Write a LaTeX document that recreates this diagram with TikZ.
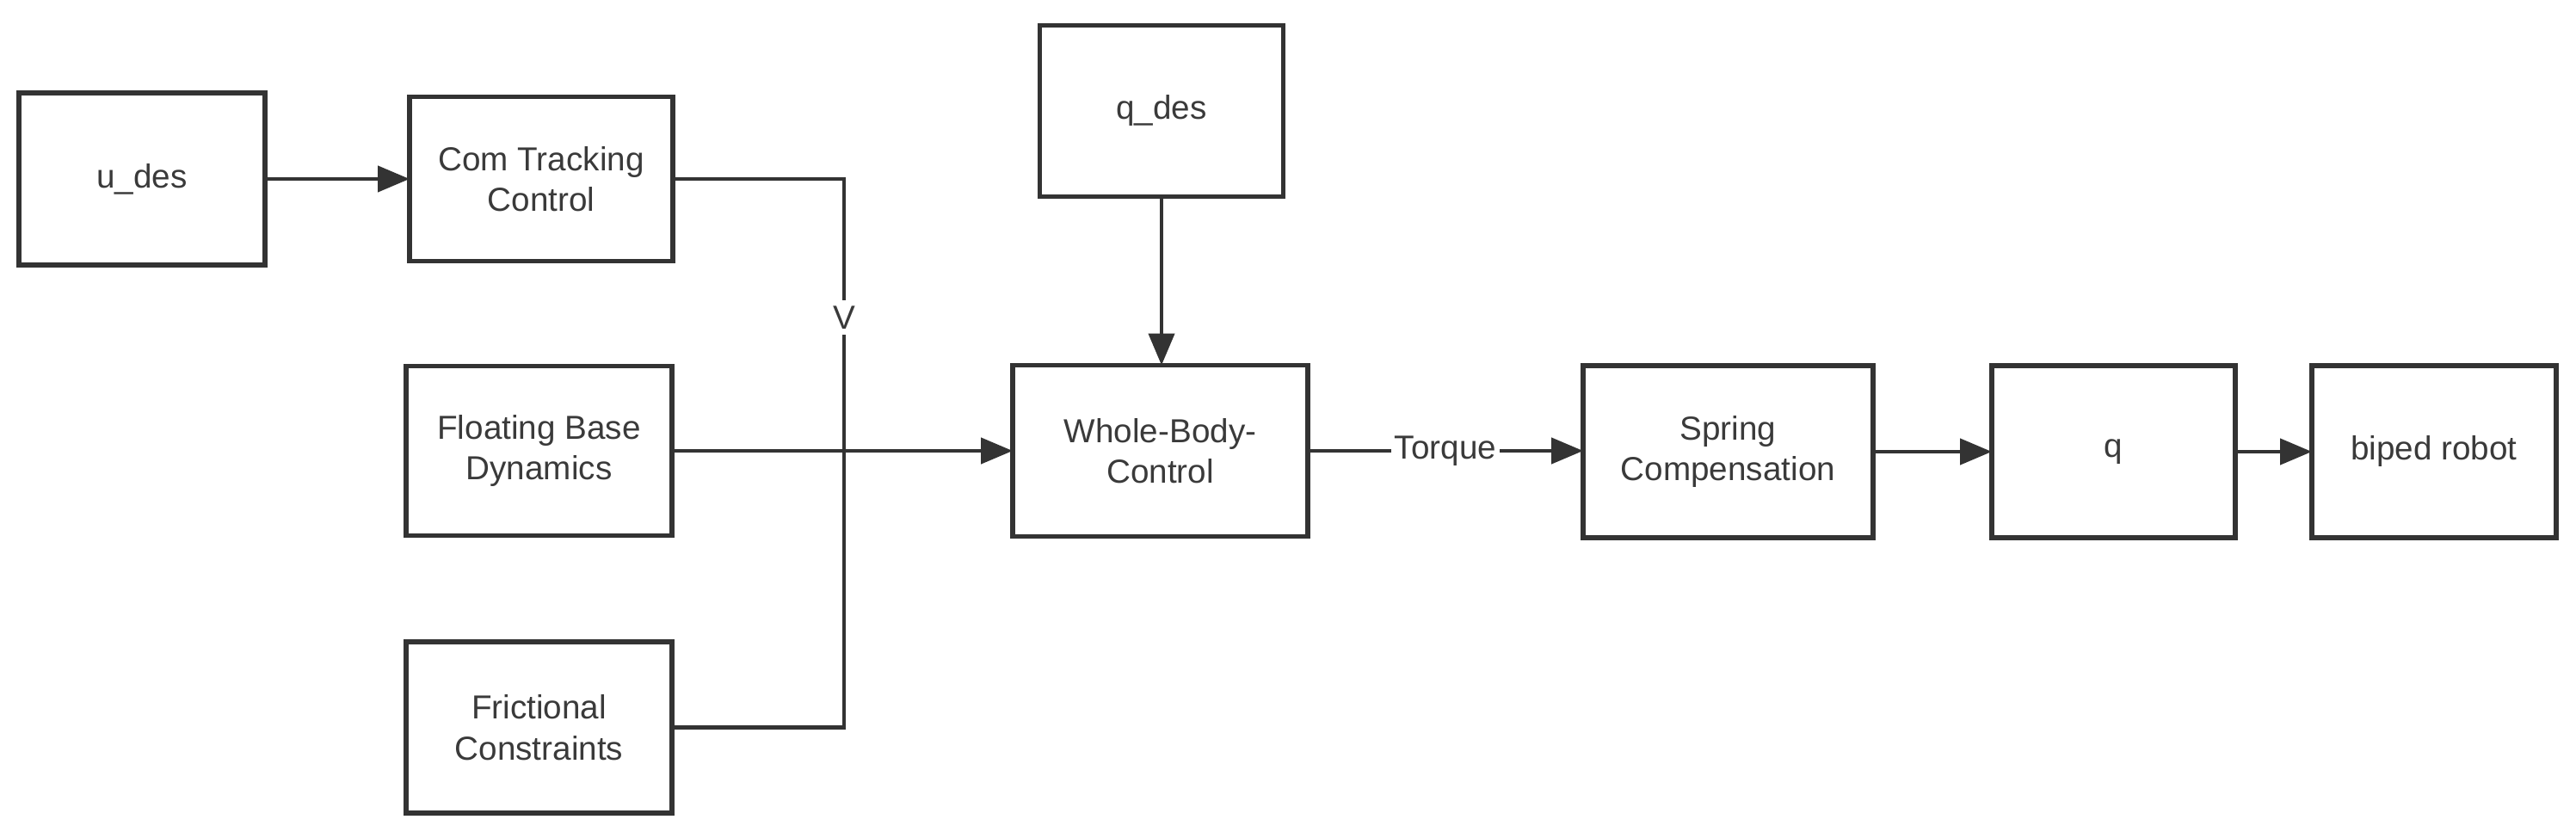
\documentclass[tikz,border=0pt]{standalone}
\usepackage{fontspec}
\setmainfont{Liberation Sans}
\usetikzlibrary{arrows.meta}
\definecolor{linegray}{HTML}{333333}
\definecolor{textgray}{HTML}{3A3A3A}

\begin{document}
\begin{tikzpicture}
        \tikzstyle{block}=[draw=linegray,line width=1.5pt,text=textgray,inner sep=0pt,outer sep=0pt,align=center,font=\fontsize{11}{13.5}\selectfont]
        \tikzstyle{flow}=[draw=linegray,line width=1.3pt,-{Triangle[length=10.5pt,width=8.5pt]}]
        \tikzstyle{wire}=[draw=linegray,line width=1.2pt]
        \tikzstyle{tag}=[fill=white,text=textgray,inner sep=2pt,font=\fontsize{11}{13.5}\selectfont]
        \useasboundingbox (0,0) rectangle (29.94,-9.74);

        % left column
        \node[block,minimum width=2.86cm,minimum height=2.00cm] (udes) at (1.65,-2.08) {u\_des};
        \node[block,minimum width=3.06cm,minimum height=1.91cm] (com) at (6.29,-2.08) {Com Tracking\\Control};
        \node[block,minimum width=3.09cm,minimum height=1.97cm] (fbd) at (6.265,-5.24) {Floating Base\\Dynamics};
        \node[block,minimum width=3.09cm,minimum height=1.99cm] (fc) at (6.265,-8.455) {Frictional\\Constraints};

        % middle and right
        \node[block,minimum width=2.83cm,minimum height=1.99cm] (qdes) at (13.50,-1.29) {q\_des};
        \node[block,minimum width=3.43cm,minimum height=1.99cm] (wbc) at (13.485,-5.24) {Whole-Body-\\Control};
        \node[block,minimum width=3.37cm,minimum height=2.00cm] (spring) at (20.085,-5.25) {Spring\\Compensation};
        \node[block,minimum width=2.83cm,minimum height=2.00cm] (q) at (24.565,-5.25) {q};
        \node[block,minimum width=2.84cm,minimum height=2.00cm] (biped) at (28.29,-5.25) {biped robot};

        \coordinate (vbot) at (9.81,-8.455);
        \draw[flow] (udes) -- (com);
        \draw[wire] (com.east) -| (vbot) -- (fc.east);
        \node[tag] (vlabel) at (9.81,-3.69) {V};
        %\node at (9.81,-5.24) {};
        \draw[flow] (fbd.east) -- (wbc.west);
        \draw[flow] (qdes.south) -- (qdes.south |- wbc.north);

        \draw[flow] (wbc.east) -- node[tag,inner sep=1pt] (torque) {Torque} (wbc.east -| spring.west);
        \draw[flow] (spring) -- (q);
        \draw[flow] (q) -- (biped);
\end{tikzpicture}
\end{document}
